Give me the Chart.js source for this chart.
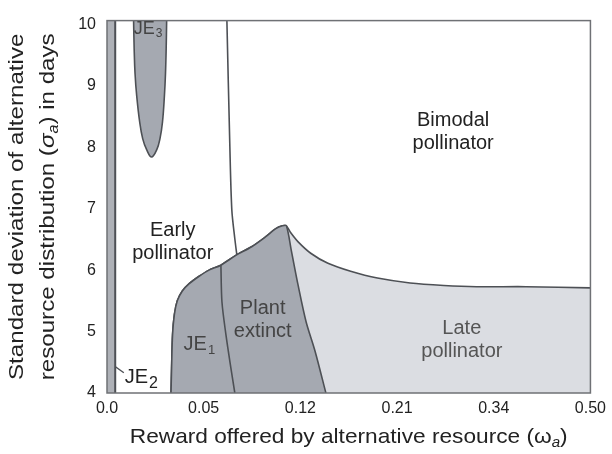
<!DOCTYPE html>
<html>
<head>
<meta charset="utf-8">
<script src="https://cdn.jsdelivr.net/npm/chart.js@4/dist/chart.umd.min.js"></script>
<style>
  body { margin: 0; background: #fff; }
  #wrap { width: 612px; height: 454px; }
</style>
</head>
<body>
<div id="wrap"><canvas id="grafico" width="612" height="454"></canvas></div>
<script>
// eixo x: posições equidistantes com rótulos não lineares
const xTickLabels = ['0.0', '0.05', '0.12', '0.21', '0.34', '0.50'];
const yTickValues = [4, 5, 6, 7, 8, 9, 10];

// fronteiras (x em unidades de posição do eixo, y em dias)
const leftStrip = [[0, 10.06], [0.085, 10.06]];
const leftStripEdge = [[0.085, 4], [0.085, 10.06]];
const je2Pointer = [[0.031, 4.49], [0.174, 4.33]];
const je3Boundary = [
  [0.275, 10.06], [0.281, 9.6], [0.290, 9.2], [0.307, 8.84], [0.338, 8.41], [0.369, 8.14], [0.410, 7.96],
  [0.461, 7.84], [0.515, 7.96], [0.548, 8.14], [0.574, 8.41], [0.594, 8.84], [0.605, 9.2], [0.612, 9.6], [0.617, 10.06]
];
const earlyBimodalBoundary = [[1.240, 10.06], [1.270, 8.05], [1.291, 6.98], [1.322, 6.51], [1.342, 6.26]];
const lowerRegionTop = [
  [0.662, 4.0], [0.668, 4.41], [0.678, 4.95], [0.697, 5.28], [0.727, 5.50], [0.779, 5.66], [0.850, 5.78],
  [0.953, 5.90], [1.055, 6.00], [1.178, 6.08], [1.332, 6.24], [1.496, 6.38], [1.639, 6.54], [1.742, 6.67],
  [1.814, 6.72], [1.855, 6.72], [1.895, 6.62], [1.977, 6.46], [2.111, 6.27], [2.285, 6.11], [2.520, 5.98],
  [2.797, 5.87], [3.135, 5.79], [3.484, 5.75], [3.822, 5.73], [4.334, 5.73], [5.0, 5.71]
];
const extinctRightEdge = [[1.906, 6.32], [1.977, 5.75], [2.059, 5.16], [2.152, 4.68], [2.264, 4.0]];
const je1ExtinctBoundary = [[1.178, 6.08], [1.189, 5.48], [1.230, 4.95], [1.281, 4.41], [1.322, 4.0]];

// rótulos das regiões
const regionLabels = [
  { lines: ['Bimodal', 'pollinator'], x: 3.58, y: 8.24, color: '#222' },
  { lines: ['Early', 'pollinator'], x: 0.68, y: 6.46, color: '#222' },
  { lines: ['Plant', 'extinct'], x: 1.61, y: 5.19, color: '#444' },
  { lines: ['Late', 'pollinator'], x: 3.67, y: 4.87, color: '#555' }
];
const subLabels = [
  { base: 'JE', sub: '1', x: 0.95, y: 4.79, size: 20, subSize: 13, color: '#444' },
  { base: 'JE', sub: '3', x: 0.42, y: 9.93, size: 18, subSize: 12, color: '#444' },
  { base: 'JE', sub: '2', x: 0.35, y: 4.25, size: 20, subSize: 16, color: '#222' }
];
const xTitle = [{ t: 'Reward offered by alternative resource (ω' }, { t: 'a', sub: true }, { t: ')' }];
const yTitle = [
  [{ t: 'Standard deviation of alternative' }],
  [{ t: 'resource distribution (' }, { t: 'σ', it: true }, { t: 'a', sub: true }, { t: ') in days' }]
];

const FONTE = "'Liberation Sans', Arial, sans-serif";
const CINZA_MEDIO = '#a5a9b1';
const CINZA_CLARO = '#dbdde2';
const LINHA = '#4d5055';

const pts = arr => arr.map(p => ({ x: p[0], y: p[1] }));

function linha(data, extra) {
    return Object.assign({
        data: pts(data),
        showLine: true,
        pointRadius: 0,
        borderColor: LINHA,
        borderWidth: 1.6,
        backgroundColor: 'transparent',
        fill: false
    }, extra);
}

// texto com subscrito, centrado em (0,0) no sistema atual
function textoRico(ctx, partes, size) {
    const fontes = partes.map(p => (p.sub || p.it ? 'italic ' : '') + (p.sub ? Math.round(size * 0.68) : size) + 'px ' + FONTE);
    const larg = partes.map((p, i) => { ctx.font = fontes[i]; return ctx.measureText(p.t).width; });
    let x = -larg.reduce((a, b) => a + b, 0) / 2;
    ctx.textAlign = 'left';
    partes.forEach((p, i) => {
        ctx.font = fontes[i];
        ctx.fillText(p.t, x, p.sub ? size * 0.3 : 0);
        x += larg[i];
    });
}

const textoRegioes = {
    id: 'textoRegioes',
    afterDatasetsDraw(chart) {
        const { ctx, chartArea, scales: { x, y } } = chart;
        ctx.save();
        // moldura
        ctx.strokeStyle = '#6f7175';
        ctx.lineWidth = 1.5;
        ctx.strokeRect(chartArea.left, chartArea.top, chartArea.right - chartArea.left, chartArea.bottom - chartArea.top);

        ctx.textAlign = 'center';
        ctx.textBaseline = 'middle';
        ctx.font = '20px ' + FONTE;
        regionLabels.forEach(l => {
            ctx.fillStyle = l.color;
            const px = x.getPixelForValue(l.x);
            const py = y.getPixelForValue(l.y);
            const h = 23;
            l.lines.forEach((t, i) => ctx.fillText(t, px, py + (i - (l.lines.length - 1) / 2) * h));
        });

        ctx.textAlign = 'left';
        subLabels.forEach(l => {
            ctx.fillStyle = l.color;
            ctx.font = l.size + 'px ' + FONTE;
            const w = ctx.measureText(l.base).width;
            ctx.font = l.subSize + 'px ' + FONTE;
            const ws = ctx.measureText(l.sub).width;
            const px = x.getPixelForValue(l.x) - (w + ws) / 2;
            const py = y.getPixelForValue(l.y);
            ctx.font = l.size + 'px ' + FONTE;
            ctx.fillText(l.base, px, py);
            ctx.font = l.subSize + 'px ' + FONTE;
            ctx.fillText(l.sub, px + w + 1, py + l.size * 0.3);
        });

        // títulos dos eixos
        ctx.fillStyle = '#222';
        const cx = (chartArea.left + chartArea.right) / 2;
        const cy = (chartArea.top + chartArea.bottom) / 2;
        ctx.save();
        ctx.translate(cx, 437);
        ctx.scale(1.08, 1);
        textoRico(ctx, xTitle, 21);
        ctx.restore();
        [17, 48].forEach((tx, i) => {
            ctx.save();
            ctx.translate(tx, cy);
            ctx.rotate(-Math.PI / 2);
            ctx.scale(1.15, 1);
            textoRico(ctx, yTitle[i], 21);
            ctx.restore();
        });
        ctx.restore();
    }
};

new Chart(document.getElementById('grafico'), {
    type: 'scatter',
    data: {
        datasets: [
            linha(earlyBimodalBoundary, { tension: 0.3 }),
            linha(je1ExtinctBoundary, { tension: 0.3 }),
            linha(lowerRegionTop.slice(0, 16).concat(extinctRightEdge), {
                tension: 0.3, fill: 'start', backgroundColor: CINZA_MEDIO
            }),
            linha(lowerRegionTop, {
                tension: 0.3, fill: 'start', backgroundColor: CINZA_CLARO
            }),
            linha(je3Boundary, {
                tension: 0.4, fill: 'end', backgroundColor: CINZA_MEDIO
            }),
            linha(leftStripEdge, { borderWidth: 2 }),
            linha(leftStrip, { borderWidth: 0, fill: 'start', backgroundColor: '#aeb1b7' }),
            linha(je2Pointer, { borderWidth: 1.3 })
        ]
    },
    options: {
        responsive: false,
        animation: false,
        layout: { padding: { top: 12, right: 17, left: 0, bottom: 0 } },
        plugins: { legend: { display: false }, tooltip: { enabled: false } },
        scales: {
            x: {
                type: 'linear',
                min: 0,
                max: 5,
                afterBuildTicks: s => { s.ticks = xTickLabels.map((_, i) => ({ value: i })); },
                afterFit: s => { s.height = 61; },
                grid: { display: false, drawTicks: false },
                border: { display: false },
                ticks: {
                    padding: 6,
                    color: '#222',
                    font: { family: FONTE, size: 16 },
                    callback: v => xTickLabels[v]
                }
            },
            y: {
                min: 4,
                max: 10.06,
                afterBuildTicks: s => { s.ticks = yTickValues.map(v => ({ value: v })); },
                afterFit: s => { s.width = 107; },
                grid: { display: false, drawTicks: false },
                border: { display: false },
                ticks: {
                    padding: 11,
                    color: '#222',
                    font: { family: FONTE, size: 16 }
                }
            }
        }
    },
    plugins: [textoRegioes]
});
</script>
</body>
</html>
